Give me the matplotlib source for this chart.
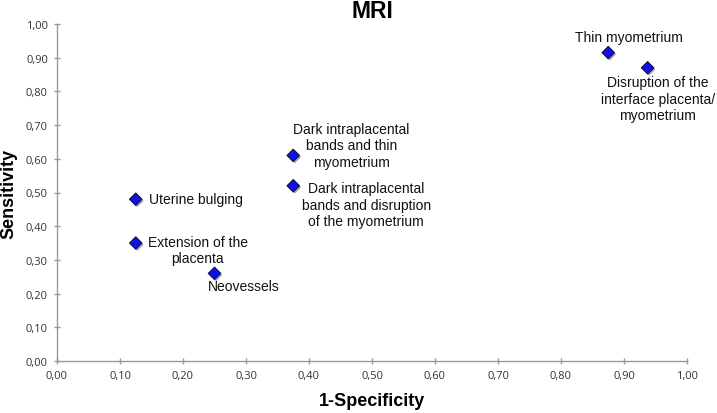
import matplotlib
matplotlib.use("Agg")
import matplotlib.pyplot as plt
import matplotlib.patheffects as pe
import numpy as np

labels = [
    "Uterine bulging",
    "Extension of the\nplacenta",
    "Neovessels",
    "Dark intraplacental\nbands and thin\nmyometrium",
    "Dark intraplacental\nbands and disruption\nof the myometrium",
    "Thin myometrium",
    "Disruption of the\ninterface placenta/\nmyometrium",
]
x_vals = [0.125, 0.125, 0.25, 0.375, 0.375, 0.875, 0.9375]
y_vals = [0.48, 0.35, 0.26, 0.61, 0.52, 0.915, 0.87]
ticks = [0.0, 0.1, 0.2, 0.3, 0.4, 0.5, 0.6, 0.7, 0.8, 0.9, 1.0]
tick_labels = ["0,00", "0,10", "0,20", "0,30", "0,40", "0,50", "0,60", "0,70", "0,80", "0,90", "1,00"]

offsets = [(13, 0, "left"), (62, -7, "center"), (29, -13, "center"), (58, 10, "center"),
           (73, -19, "center"), (21, 16, "center"), (10, -31, "center")]

fig = plt.figure(figsize=(7.17, 4.14), dpi=100)
ax = fig.add_axes([57/717, 1-362/414, (687-57)/717, (362-25)/414])

ax.scatter(x_vals, y_vals, marker="D", s=40, c="#1010ee", edgecolors="#101040",
           linewidths=0.8, zorder=3,
           path_effects=[pe.SimplePatchShadow(offset=(1.2, -1.2), alpha=0.35), pe.Normal()])

for lab, x, y, (dx, dy, ha) in zip(labels, x_vals, y_vals, offsets):
    ax.annotate(lab, (x, y), xytext=(dx, dy), textcoords="offset pixels",
                ha=ha, va="center", fontsize=10, family="Liberation Sans",
                color="#111111", linespacing=1.22, multialignment="center")

ax.set_xlim(0, 1)
ax.set_ylim(0, 1)
ax.set_xticks(ticks)
ax.set_xticklabels(tick_labels)
ax.set_yticks(ticks)
ax.set_yticklabels(tick_labels)
for lbl in ax.get_xticklabels() + ax.get_yticklabels():
    lbl.set_family("Open Sans")
    lbl.set_fontsize(8)
    lbl.set_color("#333333")

for s in ["top", "right"]:
    ax.spines[s].set_visible(False)
for s in ["left", "bottom"]:
    ax.spines[s].set_color("#999999")
    ax.spines[s].set_linewidth(1)
ax.tick_params(axis="both", direction="inout", length=5, color="#999999", width=1, pad=4)

ax.set_xlabel("1-Specificity", fontsize=13, fontweight="bold", family="Liberation Sans", labelpad=8)
ax.set_ylabel("Sensitivity", fontsize=13, fontweight="bold", family="Liberation Sans", labelpad=6)
fig.text(0.5 * (57 + 687) / 717, 1 - 12/414, "MRI", ha="center", va="center",
         fontsize=16.5, fontweight="bold", family="Liberation Sans")

fig.savefig("out.png", dpi=100)
